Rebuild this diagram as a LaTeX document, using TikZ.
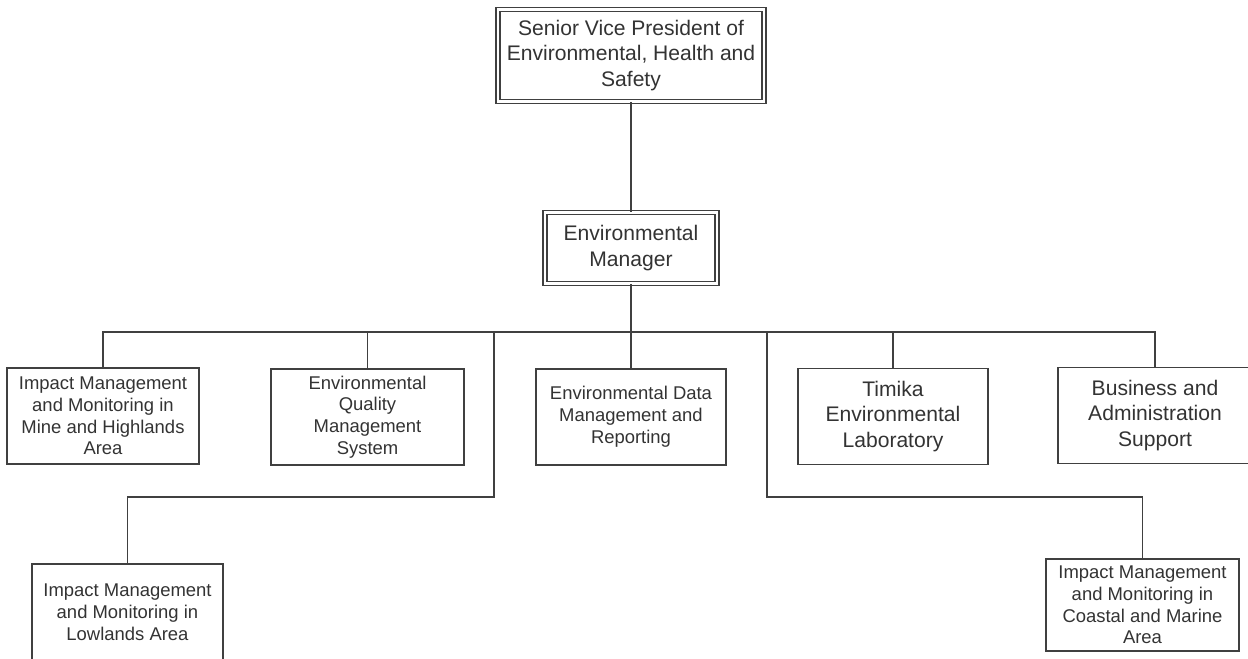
\documentclass[tikz,border=0pt]{standalone}
\usepackage{fontspec}
\setmainfont{Liberation Sans}
\usetikzlibrary{positioning}

\begin{document}
\begin{tikzpicture}[x=0.02cm, y=-0.02cm,
    unit/.style={draw=black!75, line width=0.8pt, text=black!80, align=center,
        inner sep=0pt, minimum width=3.84cm, minimum height=1.92cm,
        font=\fontsize{10.5}{12.4}\selectfont},
    bigunit/.style={unit, font=\fontsize{12}{14.6}\selectfont},
    headunit/.style={bigunit, double, double distance=1.4pt},
    link/.style={draw=black!75, line width=0.8pt}]

\useasboundingbox (0,0) rectangle (1248,659);

% Leitung
\node[headunit, minimum width=5.32cm, minimum height=1.84cm] (svp) at (631,55.5)
    {Senior Vice President of\\Environmental, Health and\\Safety};
\node[headunit, minimum width=3.44cm, minimum height=1.42cm] (envmgr) at (631,248)
    {Environmental\\Manager};

% Abteilungen
\node[unit] (mine) at (103,416) {Impact Management\\and Monitoring in\\Mine and Highlands\\Area};
\node[unit, minimum width=3.86cm] (quality) at (367.5,417) {Environmental\\Quality\\Management\\System};
\node[unit, minimum width=3.8cm] (data) at (631,417) {Environmental Data\\Management and\\Reporting};
\node[bigunit, minimum width=3.8cm] (lab) at (893,416.5) {Timika\\Environmental\\Laboratory};
\node[bigunit, minimum width=3.88cm] (admin) at (1155,415.5) {Business and\\Administration\\Support};
\node[unit, minimum width=3.82cm] (lowland) at (127.5,612) {Impact Management\\and Monitoring in\\Lowlands Area};
\node[unit, minimum width=3.86cm, minimum height=1.84cm] (coastal) at (1142.5,605)
    {Impact Management\\and Monitoring in\\Coastal and Marine\\Area};

% Verbindungen
\coordinate (bus) at (631,332);
\coordinate (lowjoint) at (494,497);
\coordinate (coastjoint) at (767,497);
\draw[link] (svp.south) -- (envmgr.north);
\draw[link] (envmgr.south) -- (bus);
\draw[link] (mine.north) |- (bus) -| (admin.north);
\foreach \n in {quality, data, lab} {
    \draw[link] (\n.north) -- (\n.north |- bus);
}
\draw[link] (lowjoint |- bus) -- (lowjoint) -| (lowland.north);
\draw[link] (coastjoint |- bus) -- (coastjoint) -| (coastal.north);

\end{tikzpicture}
\end{document}
